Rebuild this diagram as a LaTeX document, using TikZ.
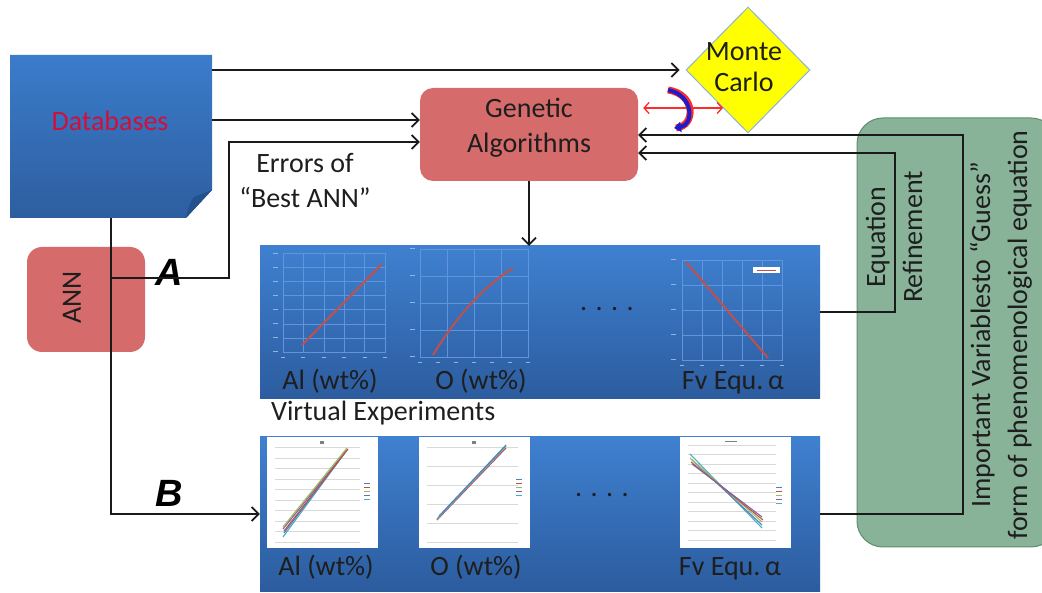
\documentclass[tikz,border=0pt]{standalone}
\usepackage{fontspec}
\setmainfont{Carlito}
\newfontfamily\arialfont{Liberation Sans}
\usetikzlibrary{arrows.meta,shapes.geometric,calc}
\definecolor{panelTop}{HTML}{3F80D0}
\definecolor{panelBot}{HTML}{2C5C9E}
\definecolor{dbTop}{HTML}{3B7CCB}
\definecolor{dbBot}{HTML}{2D5E9F}
\definecolor{dbFold}{HTML}{24508C}
\definecolor{gaRed}{HTML}{D66B6B}
\definecolor{greenFill}{HTML}{88B398}
\definecolor{greenEdge}{HTML}{5F8C6E}
\definecolor{mcYellow}{HTML}{FFFF00}
\definecolor{mcEdge}{HTML}{8DB3DA}
\definecolor{txt}{HTML}{1E1E1E}
\definecolor{dbText}{HTML}{D0103A}
\definecolor{gridBlue}{HTML}{5E95DC}
\definecolor{plotRed}{HTML}{C0504D}
\definecolor{gridGrey}{HTML}{D9D9D9}
\definecolor{lineC}{HTML}{1A1A1A}
\definecolor{arcBlue}{HTML}{1C1CC8}
\definecolor{arrRed}{HTML}{FF2A2A}
\definecolor{sBlue}{HTML}{4F81BD}
\definecolor{sRed}{HTML}{C0504D}
\definecolor{sGreen}{HTML}{9BBB59}
\definecolor{sPurple}{HTML}{8064A2}
\definecolor{sCyan}{HTML}{4BACC6}
\begin{document}
\begin{tikzpicture}[x=1pt,y=1pt,
  conn/.style={draw=lineC,line width=1.9pt},
  arr/.style={conn,-{Straight Barb[length=7pt,width=14pt,line width=1.7pt]}},
  lbl/.style={font=\fontsize{28}{35}\selectfont,text=txt,align=center,inner sep=0pt},
  panel/.style={minimum width=560pt,inner sep=0pt,top color=panelTop,bottom color=panelBot,draw=none},
  redbox/.style={fill=gaRed,inner sep=0pt},
  bigletter/.style={font=\arialfont\bfseries\itshape\fontsize{38}{40}\selectfont,text=black,inner sep=0pt},
  plotframe/.style={draw=gridBlue,line width=0.7pt},
  plotgrid/.style={draw=gridBlue,line width=0.4pt},
  tickmark/.style={draw=gridBlue!70!white,line width=1pt},
  hgrid/.style={draw=gridGrey,line width=0.5pt},
  sline/.style={line width=1.1pt},
]
\useasboundingbox (0,0) rectangle (1042,592);

% green box
\node[fill=greenFill,draw=greenEdge,line width=1pt,rounded corners=26pt,minimum width=200pt,minimum height=429pt,inner sep=0pt] (gb) at (957,259.5) {};
\node[lbl,rotate=90,font=\fontsize{28}{37}\selectfont] (eqref) at (894,355) {Equation\\Refinement};
\node[lbl,rotate=90,font=\fontsize{28}{37}\selectfont] (imp) at (1001,257) {Important Variablesto “Guess”\\form of phenomenological equation};

% Databases
\shade[top color=dbTop,bottom color=dbBot] (10,537) -- (212,537) -- (212,402) -- (186,374) -- (10,374) -- cycle;
\fill[dbFold] (212,402) -- (186,374) .. controls (189,387) .. (194,395) -- cycle;
\node[minimum width=202pt,minimum height=163pt,inner sep=0pt] (db) at (111,455.5) {};
\node[lbl,text=dbText] (dbt) at (110,471) {Databases};

% panels
\node[panel,minimum height=153pt] (ve1) at (540,269.5) {};
\node[panel,minimum height=154pt] (ve2) at (540,78) {};

% row 1 plot 1
\foreach \i in {1,...,4} \draw[plotgrid] ({283+\i*20.4},240) -- ({283+\i*20.4},339);
\foreach \j in {1,...,6} \draw[plotgrid] (283,{240+\j*14.14}) -- (385,{240+\j*14.14});
\draw[plotframe] (283,240) rectangle (385,339);
\foreach \j in {0,...,7} \draw[tickmark] (273,{240+\j*14.14}) -- (278,{240+\j*14.14});
\foreach \i in {0,...,5} \draw[tickmark] ({281+\i*20.4},234) -- ({285+\i*20.4},234);
\draw[plotRed,line width=2pt] (302,247) -- (382,328);
% row 1 plot 2
\foreach \i in {1,...,3} \draw[plotgrid] ({420+\i*27},235) -- ({420+\i*27},343);
\foreach \j in {1,...,3} \draw[plotgrid] (420,{235+\j*27}) -- (528,{235+\j*27});
\draw[plotframe] (420,235) rectangle (528,343);
\foreach \j in {0,...,4} \draw[tickmark] (410,{235+\j*27}) -- (415,{235+\j*27});
\foreach \i in {0,...,6} \draw[tickmark] ({418+\i*18},229) -- ({422+\i*18},229);
\draw[plotRed,line width=2pt] (433,237) .. controls (452,268) and (478,302) .. (513,324);
% row 1 plot 3
\foreach \i in {1,...,4} \draw[plotgrid] ({682+\i*20},232) -- ({682+\i*20},332);
\foreach \j in {1,...,3} \draw[plotgrid] (682,{232+\j*25}) -- (782,{232+\j*25});
\draw[plotframe] (682,232) rectangle (782,332);
\foreach \j in {0,...,4} \draw[tickmark] (671,{232+\j*25}) -- (676,{232+\j*25});
\foreach \i in {0,...,5} \draw[tickmark] ({680+\i*20},226) -- ({684+\i*20},226);
\draw[plotRed,line width=2pt] (686,330) -- (768,234);
\fill[white] (753,319) rectangle (780,325);
\draw[plotRed,line width=0.6pt] (757,322) -- (776,322);

% row 2 plot 1
\fill[white] (267,44) rectangle (378,155);
\foreach \j in {0,...,9} \draw[hgrid] (275,{50+\j*10.5}) -- (360,{50+\j*10.5});
\draw[sline,sCyan] (283,55) -- (347,142);
\draw[sline,sBlue] (284,59) -- (347,142);
\draw[sline,sPurple] (283,63) -- (346,141);
\draw[sline,sRed] (284,61) -- (348,143);
\draw[sline,sGreen] (283,65) -- (347,144);
\foreach \c/\k in {sBlue/0,sRed/1,sGreen/2,sPurple/3,sCyan/4} \draw[\c,line width=1pt] (364,{108-\k*4}) -- (370,{108-\k*4});
\fill[gray] (320,148) rectangle (324,151);
% row 2 plot 2
\fill[white] (419,44) rectangle (530,155);
\foreach \j in {0,...,5} \draw[hgrid] (427,{50+\j*19}) -- (518,{50+\j*19});
\draw[sline,sRed] (437,72) -- (506,144);
\draw[sline,sGreen] (438,74) -- (506,146);
\draw[sline,sCyan] (437,73) -- (505,145);
\draw[sline,sBlue] (439,76) -- (506,147);
\foreach \c/\k in {sBlue/0,sRed/1,sGreen/2,sPurple/3,sCyan/4} \draw[\c,line width=1pt] (516,{112-\k*4}) -- (522,{112-\k*4});
\fill[gray] (472,148) rectangle (476,151);
% row 2 plot 3
\fill[white] (680,44) rectangle (791,155);
\foreach \j in {0,...,10} \draw[hgrid] (688,{52+\j*9.5}) -- (776,{52+\j*9.5});
\draw[sline,sCyan] (690,138) -- (762,64);
\draw[sline,sBlue] (692,132) -- (762,67);
\draw[sline,sGreen] (690,134) -- (762,70);
\draw[sline,sRed] (691,130) -- (763,72);
\draw[sline,sPurple] (692,128) -- (762,75);
\foreach \c/\k in {sBlue/0,sRed/1,sGreen/2,sPurple/3,sCyan/4} \draw[\c,line width=1pt] (776,{104-\k*4}) -- (782,{104-\k*4});
\draw[gray,line width=1pt] (725,150) -- (737,150);

% row labels
\node[lbl] (al1) at (330,211) {Al (wt\%)};
\node[lbl] (o1) at (481,211) {O (wt\%)};
\node[lbl] (fv1) at (733,209) {Fv Equ.\,α};
\node[lbl] (dots1) at (607,283) {. . . .};
\node[lbl] (al2) at (326,25) {Al (wt\%)};
\node[lbl] (o2) at (476,25) {O (wt\%)};
\node[lbl] (fv2) at (730,23) {Fv Equ.\,α};
\node[lbl] (dots2) at (602,97) {. . . .};
\node[lbl,anchor=west] (vexp) at (271,179) {Virtual Experiments};

% Genetic Algorithms
\node[redbox,rounded corners=13pt,minimum width=218pt,minimum height=93pt] (ga) at (529,457.5) {};
\node[lbl] (gat) at (529,464.5) {Genetic\\Algorithms};

% Monte Carlo
\node[diamond,fill=mcYellow,draw=mcEdge,line width=1pt,minimum width=124pt,minimum height=126pt,inner sep=0pt] (mc) at (748,522) {};
\node[lbl,font=\fontsize{28}{31}\selectfont] (mct) at (744,525) {Monte\\Carlo};

% ANN
\node[redbox,rounded corners=15pt,minimum width=118pt,minimum height=105pt] (ann) at (86,292.5) {};
\node[lbl,rotate=90] (annt) at (72,294.5) {ANN};

% texts
\node[lbl] (err) at (305,411) {Errors of\\“Best ANN”};
\node[bigletter] (la) at (169,320) {A};
\node[bigletter] (lb) at (169,99) {B};

% connectors
\draw[arr] (db.east |- mc.west) -- ([xshift=-6pt]mc.west);
\draw[arr] (db.east |- 0,472) -- (ga.west |- 0,472);
\coordinate (abend) at (229,450);
\draw[arr] (db.south |- 0,314) -| (abend) -- (ga.west |- abend);
\draw[arr] (db.south) -- (db.south |- ve2.west) -- (ve2.west);
\draw[arr] (ga.south) -- (ga.south |- ve1.north);
\coordinate (r1bend) at (895,439);
\draw[arr] (ve1.east |- 0,280) -| (r1bend) -- (ga.east |- r1bend);
\coordinate (r2bend) at (963,457);
\draw[arr] (ve2.east) -| (r2bend) -- (ga.east |- r2bend);

% GA <-> Monte Carlo
\coordinate (mcedge) at (723,484);
\draw[arrRed,line width=1.3pt,{Straight Barb[length=5pt,width=11pt]}-{Straight Barb[length=5pt,width=11pt]}] ([xshift=5pt]ga.east |- mcedge) -- (mcedge);
\draw[arrRed,line width=7pt] (668,502) .. controls (696,498) and (696,466) .. (676,464);
\draw[arcBlue,line width=4pt,-{Triangle[length=7pt,width=10pt]}] (668,502) .. controls (694,497) and (694,467) .. (674,464);
\end{tikzpicture}
\end{document}
